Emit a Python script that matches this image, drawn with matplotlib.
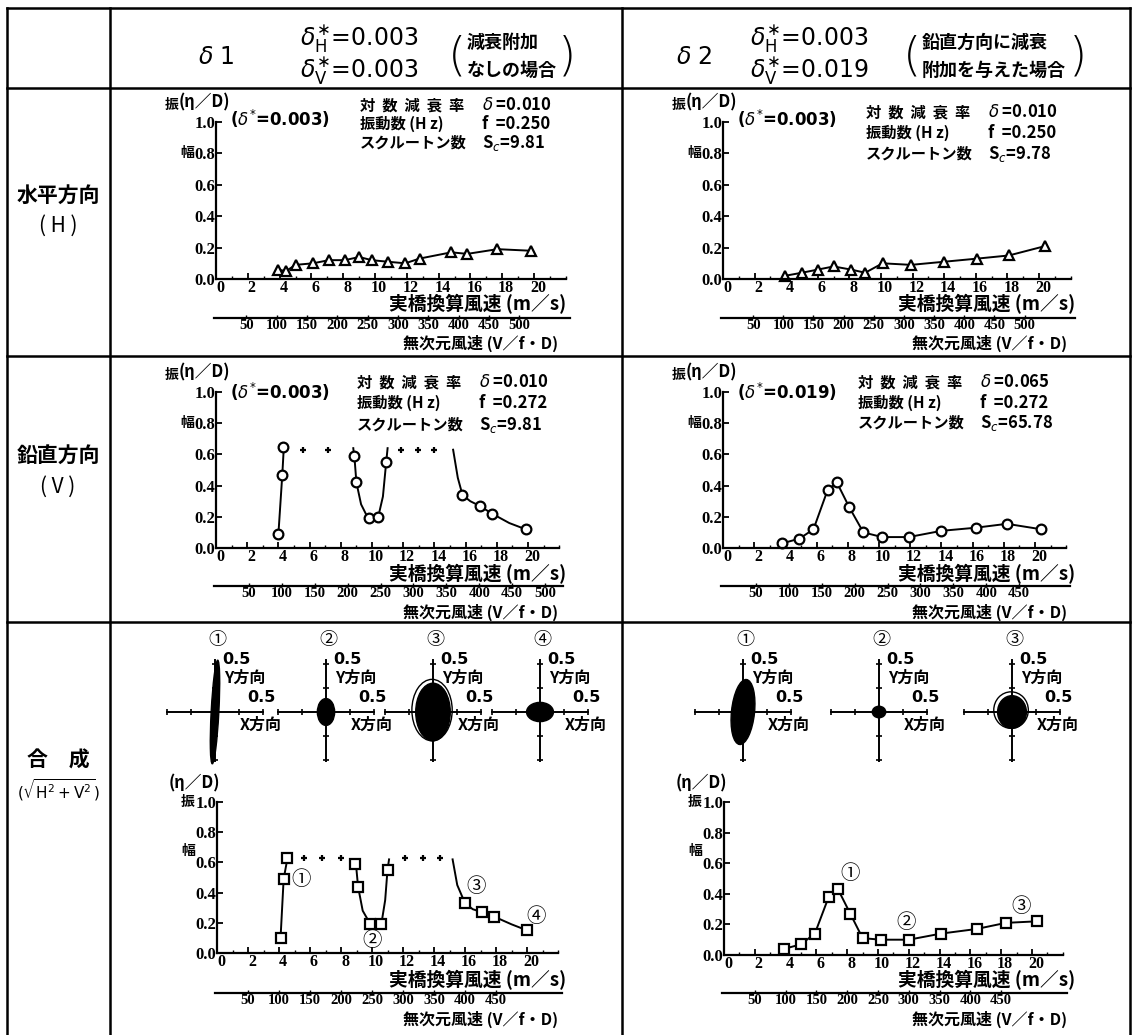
import numpy as np
import matplotlib.pyplot as plt
import matplotlib.transforms as mtransforms
from matplotlib.lines import Line2D
from matplotlib.patches import Ellipse

plt.rcParams['font.family'] = ['Noto Sans CJK JP', 'DejaVu Sans']
plt.rcParams['mathtext.fontset'] = 'dejavusans'

W, H = 1134, 1035

# ================= data =================
# 水平方向 (H)
h1_x = [3.9, 4.4, 5.0, 6.1, 7.1, 8.1, 9.0, 9.8, 10.8, 11.9, 12.8, 14.8, 15.8, 17.7, 19.8]
h1_y = [0.06, 0.05, 0.09, 0.10, 0.12, 0.12, 0.14, 0.12, 0.11, 0.10, 0.13, 0.17, 0.16, 0.19, 0.18]
h2_x = [3.9, 5.0, 6.0, 7.0, 8.1, 9.0, 10.1, 11.9, 14.0, 16.1, 18.1, 20.4]
h2_y = [0.02, 0.04, 0.06, 0.08, 0.06, 0.04, 0.10, 0.09, 0.11, 0.13, 0.15, 0.21]

# 鉛直方向 (V)
v1_x = [4.0, 4.25, 4.3, 8.85, 9.0, 9.8, 10.4, 10.9, 15.8, 16.9, 17.7, 19.85]
v1_y = [0.09, 0.47, 0.65, 0.59, 0.42, 0.19, 0.20, 0.55, 0.34, 0.27, 0.22, 0.12]
v1_seg1_x = [4.0, 4.25, 4.35]
v1_seg1_y = [0.09, 0.47, 0.65]
v1_seg2_x = [8.8, 8.9, 9.0, 9.3, 9.7, 10.1, 10.4, 10.7, 10.9, 11.0]
v1_seg2_y = [0.64, 0.55, 0.42, 0.28, 0.20, 0.19, 0.20, 0.33, 0.54, 0.64]
v1_seg3_x = [15.2, 15.5, 15.8, 16.3, 16.9, 17.7, 18.8, 19.85]
v1_seg3_y = [0.63, 0.45, 0.34, 0.30, 0.27, 0.22, 0.16, 0.12]
v1_cross_x = [5.6, 7.2, 11.85, 12.95, 14.0]
v1_cross_y = [0.63, 0.63, 0.63, 0.63, 0.63]

v2_x = [3.8, 4.9, 5.8, 6.7, 7.3, 8.1, 9.0, 10.2, 11.9, 14.0, 16.2, 18.2, 20.4]
v2_y = [0.03, 0.06, 0.12, 0.37, 0.42, 0.26, 0.10, 0.07, 0.07, 0.11, 0.13, 0.155, 0.12]

# 合成
c1_x = [4.1, 4.3, 4.5, 8.9, 9.1, 9.9, 10.6, 11.0, 16.0, 17.1, 17.9, 20.0]
c1_y = [0.10, 0.49, 0.63, 0.59, 0.44, 0.19, 0.19, 0.55, 0.33, 0.27, 0.24, 0.15]
c1_seg1_x = [4.1, 4.3, 4.55]
c1_seg1_y = [0.10, 0.49, 0.63]
c1_seg2_x = [8.9, 9.0, 9.1, 9.4, 9.9, 10.3, 10.6, 10.85, 11.0, 11.1]
c1_seg2_y = [0.61, 0.55, 0.44, 0.28, 0.19, 0.185, 0.19, 0.35, 0.55, 0.62]
c1_seg3_x = [15.2, 15.5, 16.0, 16.5, 17.1, 17.9, 19.0, 20.0]
c1_seg3_y = [0.62, 0.45, 0.33, 0.29, 0.27, 0.24, 0.19, 0.15]
c1_cross_x = [5.6, 6.8, 8.0, 12.1, 13.3, 14.4]
c1_cross_y = [0.63, 0.63, 0.63, 0.63, 0.63, 0.63]
c1_tag = ['①', '②', '③', '④']
c1_tag_x = [5.4, 10.0, 16.7, 20.6]
c1_tag_y = [0.49, 0.08, 0.44, 0.24]

c2_x = [3.9, 5.0, 5.9, 6.8, 7.4, 8.2, 9.0, 10.2, 12.0, 14.1, 16.4, 18.3, 20.3]
c2_y = [0.04, 0.07, 0.14, 0.38, 0.43, 0.27, 0.11, 0.10, 0.10, 0.14, 0.17, 0.21, 0.22]
c2_tag = ['①', '②', '③']
c2_tag_x = [8.2, 11.8, 19.3]
c2_tag_y = [0.53, 0.21, 0.32]

# 軌跡 (X方向, Y方向の振幅)
orb1_rx = [0.04, 0.09, 0.18, 0.14]
orb1_ry = [0.54, 0.14, 0.30, 0.10]
orb2_rx = [0.12, 0.07, 0.15]
orb2_ry = [0.34, 0.06, 0.17]

# 無次元風速の目盛
dim_ticks_500 = [50, 100, 150, 200, 250, 300, 350, 400, 450, 500]
dim_ticks_450 = [50, 100, 150, 200, 250, 300, 350, 400, 450]
k_row1, k_row2, k_row3 = 26.2, 23.7, 25.0   # V/f·D per m/s

# ================= helpers =================
fig = plt.figure(figsize=(W / 100, H / 100), dpi=100)


def add_ax(x0, x1, y0, y1):
    return fig.add_axes([x0 / W, 1 - y1 / H, (x1 - x0) / W, (y1 - y0) / H])


def txt(x, y, s, size, ha='left', va='center', **kw):
    kw.setdefault('fontweight', 'bold')
    fig.text(x / W, 1 - y / H, s, fontsize=size, ha=ha, va=va, **kw)


def hline(y, x0, x1, lw=1.8):
    fig.add_artist(Line2D([x0 / W, x1 / W], [1 - y / H, 1 - y / H], color='k', lw=lw))


def vline(x, y0, y1, lw=1.8):
    fig.add_artist(Line2D([x / W, x / W], [1 - y0 / H, 1 - y1 / H], color='k', lw=lw))


NUM = dict(family='Liberation Serif', fontweight='bold')


def amp_axes(x0, y_top, y_bot, pxu):
    ax = add_ax(x0, x0 + 22 * pxu, y_top, y_bot)
    ax.set_xlim(0, 22)
    ax.set_ylim(0, 1)
    ax.patch.set_alpha(0)
    for s in ['top', 'right']:
        ax.spines[s].set_visible(False)
    for s in ['left', 'bottom']:
        ax.spines[s].set_linewidth(1.6)
    ax.set_xticks(range(0, 21, 2))
    ax.set_xticks(range(0, 23), minor=True)
    ax.set_yticks([0, 0.2, 0.4, 0.6, 0.8, 1.0])
    ax.set_yticklabels(['0.0', '0.2', '0.4', '0.6', '0.8', '1.0'], **NUM, fontsize=12)
    ax.set_xticklabels([str(v) for v in range(0, 21, 2)], **NUM, fontsize=11.5)
    ax.tick_params(direction='in', length=4, width=1.3, pad=0.5)
    ax.tick_params(which='minor', direction='in', length=2.5, width=1.0)
    # x labels sit a little to the right of their ticks, as in the scan
    shift = mtransforms.ScaledTranslation(4 / 100, 0, fig.dpi_scale_trans)
    for lab in ax.get_xticklabels():
        lab.set_transform(lab.get_transform() + shift)
    return ax


def dim_axes(x0, pxu, y_line, k, ticks):
    ax = add_ax(x0 - 2, x0 + 22 * pxu + 4, y_line - 8, y_line)
    ax.set_xlim(-2 / pxu * k, (22 + 4 / pxu) * k)
    ax.set_ylim(0, 1)
    ax.patch.set_alpha(0)
    for s in ['top', 'right', 'left']:
        ax.spines[s].set_visible(False)
    ax.spines['bottom'].set_linewidth(1.6)
    ax.set_yticks([])
    ax.set_xticks(ticks)
    ax.set_xticklabels([str(t) for t in ticks], family='Liberation Serif',
                       fontweight='bold', fontsize=10.5)
    ax.tick_params(direction='in', length=2.5, width=1.0, pad=1)
    return ax


def ylabels(x_axis, y_top, y_08, upper=True):
    if upper:
        txt(x_axis - 51, y_top - 14, '振', 10)
        txt(x_axis - 37, y_top - 17, '(η／D)', 12)
    else:
        txt(x_axis - 48, y_top - 19, '(η／D)', 12)
        txt(x_axis - 22, y_top, '振', 10, ha='right')
    txt(x_axis - 22, y_08, '幅', 10, ha='right')


def info(x, ys, vals):
    names = ['対  数  減  衰  率', '振動数 (H z)', 'スクルートン数']
    for name, y, v in zip(names, ys, vals):
        txt(x, y, name, 11)
        txt(x + 122, y, v, 12)


def xlabels(x_right, y_main, y_dim):
    txt(x_right, y_main, '実橋換算風速 (m／s)', 13.5, ha='right')
    txt(x_right - 8, y_dim, '無次元風速 (V／f・D)', 11.5, ha='right')


def curve(ax, xs, ys):
    ax.plot(xs, ys, color='k', lw=1.4, clip_on=False)


def marks(ax, xs, ys, m, ms):
    ax.plot(xs, ys, ls='none', marker=m, ms=ms, mfc='white', mec='k', mew=1.6, clip_on=False)


def crosses(ax, xs, ys):
    ax.plot(xs, ys, ls='none', marker='+', ms=5, mew=1.6, color='k', clip_on=False)


def orbit(cx, cy, rx, ry, tag, angle=0.0, ring=False):
    ax = add_ax(cx - 56, cx + 56, cy - 56, cy + 56)
    lim = 0.5 * 56 / 48
    ax.set_xlim(-lim, lim)
    ax.set_ylim(-lim, lim)
    ax.patch.set_alpha(0)
    for s in ['top', 'right']:
        ax.spines[s].set_visible(False)
    ax.spines['left'].set_position('zero')
    ax.spines['bottom'].set_position('zero')
    ax.spines['left'].set_bounds(-0.51, 0.54)
    ax.spines['bottom'].set_bounds(-0.5, 0.5)
    for s in ['left', 'bottom']:
        ax.spines[s].set_linewidth(1.4)
    ax.set_xticks([-0.5, -0.25, 0.25, 0.5])
    ax.set_yticks([-0.5, -0.25, 0.25, 0.5])
    ax.tick_params(direction='inout', length=5, width=1.2, labelleft=False, labelbottom=False)
    ax.add_patch(Ellipse((0, 0), 2 * rx, 2 * ry, angle=angle, fc='k', ec='k', lw=1))
    if ring:
        ax.add_patch(Ellipse((-0.01, 0.02), 2 * rx + 0.06, 2 * ry + 0.04, fc='none', ec='k', lw=1))
    txt(cx + 2, cy - 72, tag, 13, fontweight='normal', ha='center')
    txt(cx + 7, cy - 52, '0.5', 11.5, family='DejaVu Sans')
    txt(cx + 9, cy - 34, 'Y方向', 11.5)
    txt(cx + 46, cy - 14, '0.5', 11.5, ha='center', family='DejaVu Sans')
    txt(cx + 46, cy + 13, 'X方向', 11.5, ha='center')


# ================= table frame =================
for x in [7, 110, 622, 1130]:
    vline(x, 8, 1035)
for y in [8, 88, 356, 622]:
    hline(y, 7, 1130)

# header
HD = dict(family='DejaVu Sans', fontweight='normal')
txt(198, 57, r'$\delta$ 1', 17, **HD)
txt(300, 38, r'$\delta^{\ast}_{\mathrm{H}}$=0.003', 17, **HD)
txt(300, 70, r'$\delta^{\ast}_{\mathrm{V}}$=0.003', 17, **HD)
txt(467, 42, '減衰附加', 13)
txt(467, 70, 'なしの場合', 13)
txt(448, 56, '(', 34, fontweight='light', family='DejaVu Sans')
txt(558, 56, ')', 34, fontweight='light', family='DejaVu Sans')
txt(676, 57, r'$\delta$ 2', 17, **HD)
txt(750, 38, r'$\delta^{\ast}_{\mathrm{H}}$=0.003', 17, **HD)
txt(750, 70, r'$\delta^{\ast}_{\mathrm{V}}$=0.019', 17, **HD)
txt(922, 42, '鉛直方向に減衰', 13)
txt(922, 70, '附加を与えた場合', 13)
txt(903, 56, '(', 34, fontweight='light', family='DejaVu Sans')
txt(1069, 56, ')', 34, fontweight='light', family='DejaVu Sans')

# row labels
txt(58, 195, '水平方向', 15, ha='center')
txt(58, 226, '( H )', 15, ha='center', fontweight='normal')
txt(58, 455, '鉛直方向', 15, ha='center')
txt(58, 487, '( V )', 15, ha='center', fontweight='normal')
txt(58, 760, '合　成', 15, ha='center')
txt(58, 790, r'$(\sqrt{\mathrm{H}^2+\mathrm{V}^2})$', 11, ha='center', fontweight='normal')

# ================= row 1 : 水平方向 =================
ax = amp_axes(216, 122, 279, 15.9)
curve(ax, h1_x, h1_y)
marks(ax, h1_x, h1_y, '^', 6.5)
dim_axes(216, 15.9, 318, k_row1, dim_ticks_500)
ylabels(216, 119, 153)
txt(230, 119, r'($\delta^{*}$=0.003)', 12, family='DejaVu Sans')
info(360, [105, 124, 143], [r'$\delta$ =0.010', 'f  =0.250', r'S$_c$=9.81'])
xlabels(566, 304, 343)

ax = amp_axes(723, 122, 279, 15.8)
curve(ax, h2_x, h2_y)
marks(ax, h2_x, h2_y, '^', 6.5)
dim_axes(723, 15.8, 318, k_row1, dim_ticks_500)
ylabels(723, 119, 153)
txt(737, 119, r'($\delta^{*}$=0.003)', 12, family='DejaVu Sans')
info(866, [112, 133, 154], [r'$\delta$ =0.010', 'f  =0.250', r'S$_c$=9.78'])
xlabels(1075, 304, 343)

# ================= row 2 : 鉛直方向 =================
ax = amp_axes(216, 392, 548, 15.6)
for sx, sy in [(v1_seg1_x, v1_seg1_y), (v1_seg2_x, v1_seg2_y), (v1_seg3_x, v1_seg3_y)]:
    curve(ax, sx, sy)
marks(ax, v1_x, v1_y, 'o', 7)
crosses(ax, v1_cross_x, v1_cross_y)
dim_axes(216, 15.6, 586, k_row2, dim_ticks_500)
ylabels(216, 389, 423)
txt(230, 392, r'($\delta^{*}$=0.003)', 12, family='DejaVu Sans')
info(357, [382, 403, 425], [r'$\delta$ =0.010', 'f  =0.272', r'S$_c$=9.81'])
xlabels(566, 574, 612)

ax = amp_axes(723, 392, 548, 15.6)
curve(ax, v2_x, v2_y)
marks(ax, v2_x, v2_y, 'o', 7)
dim_axes(723, 15.6, 586, k_row2, dim_ticks_450)
ylabels(723, 389, 423)
txt(737, 392, r'($\delta^{*}$=0.019)', 12, family='DejaVu Sans')
info(858, [382, 403, 423], [r'$\delta$ =0.065', 'f  =0.272', r'S$_c$=65.78'])
xlabels(1075, 574, 612)

# ================= row 3 : 合成 =================
orbit_left_x = [215, 326, 433, 540]
orbit_right_x = [743, 879, 1012]
for i, cx in enumerate(orbit_left_x):
    orbit(cx, 712, orb1_rx[i], orb1_ry[i], c1_tag[i], angle=-3 if i == 0 else 0, ring=(i == 2))
for i, cx in enumerate(orbit_right_x):
    orbit(cx, 712, orb2_rx[i], orb2_ry[i], c2_tag[i], angle=-6 if i == 0 else 0, ring=(i == 2))

ax = amp_axes(217, 802, 953, 15.5)
for sx, sy in [(c1_seg1_x, c1_seg1_y), (c1_seg2_x, c1_seg2_y), (c1_seg3_x, c1_seg3_y)]:
    curve(ax, sx, sy)
marks(ax, c1_x, c1_y, 's', 6.5)
crosses(ax, c1_cross_x, c1_cross_y)
for t, tx, ty in zip(c1_tag, c1_tag_x, c1_tag_y):
    ax.text(tx, ty, t, fontsize=14, ha='center', va='center')
dim_axes(217, 15.5, 993, k_row3, dim_ticks_450)
ylabels(217, 802, 851, upper=False)
xlabels(566, 980, 1019)

ax = amp_axes(724, 802, 955, 15.4)
curve(ax, c2_x, c2_y)
marks(ax, c2_x, c2_y, 's', 6.5)
for t, tx, ty in zip(c2_tag, c2_tag_x, c2_tag_y):
    ax.text(tx, ty, t, fontsize=14, ha='center', va='center')
dim_axes(724, 15.4, 993, k_row3, dim_ticks_450)
ylabels(724, 802, 851, upper=False)
xlabels(1075, 980, 1019)

fig.savefig('out.png', dpi=100)
